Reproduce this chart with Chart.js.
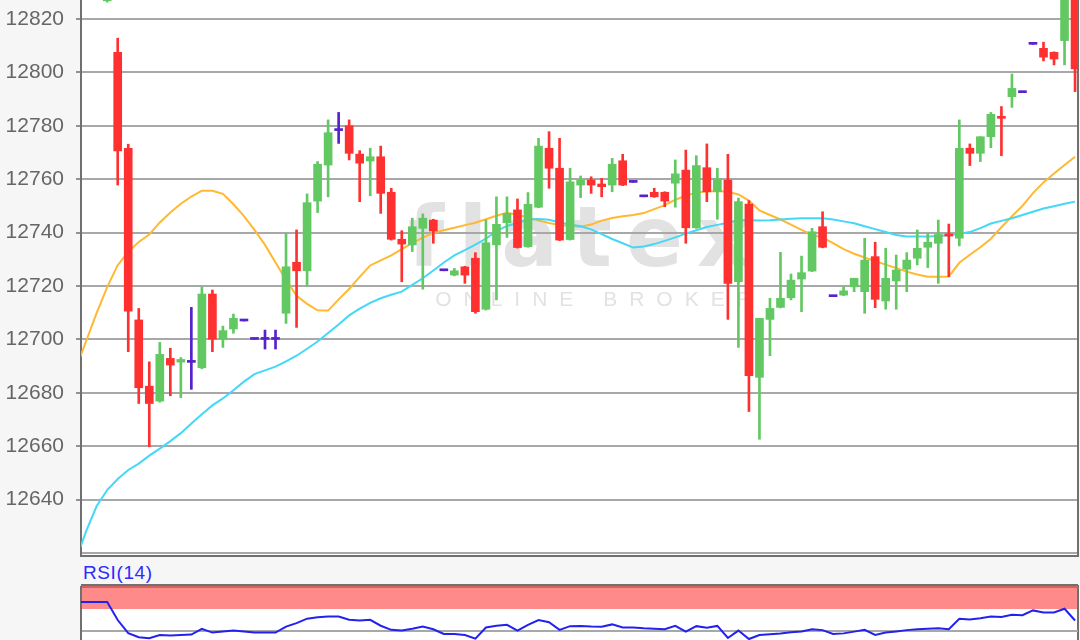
<!DOCTYPE html>
<html>
<head>
<meta charset="utf-8">
<script src="https://cdn.jsdelivr.net/npm/chart.js@4/dist/chart.umd.min.js"></script>
<style>
  body { margin: 0; width: 1080px; height: 640px; overflow: hidden; position: relative; background: #f6f6f6; }
  canvas { position: absolute; left: 0; }
  #price-chart { top: 0; }
  #rsi-chart { top: 583px; }
  #rsi-label { position: absolute; left: 83px; top: 563px; font: 19px "Liberation Sans", Arial, sans-serif; letter-spacing: 0.6px; color: #2b2bff; line-height: 20px; }
</style>
</head>
<body>
<canvas id="price-chart" width="1080" height="557"></canvas>
<div id="rsi-label">RSI(14)</div>
<canvas id="rsi-chart" width="1080" height="100"></canvas>
<script>
// Candles, first one sits at index 0 (mostly above the visible area)
const opens = [12826.8, 12807.5, 12771.6, 12707.3, 12682.5, 12676.9, 12692.9, 12691.5, 12691.4, 12689.4,
  12717, 12700.1, 12703.9, 12706.9, 12700, 12700, 12700, 12709.8, 12728.9, 12725.7,
  12751.8, 12765.3, 12778.2, 12780, 12769.4, 12766.8, 12768.4, 12755.1, 12737.5, 12735.4,
  12741.6, 12744.7, 12725.7, 12724.1, 12727.2, 12730.4, 12711.3, 12735.4, 12743.7, 12748.5,
  12734.7, 12749.5, 12771.6, 12764.1, 12737.4, 12757.8, 12759.7, 12758.2, 12757.8, 12766.9,
  12758.8, 12753.4, 12755.1, 12755.1, 12758.5, 12763.4, 12741.8, 12764.3, 12755.3, 12759.7,
  12721.6, 12750.7, 12685.8, 12707.5, 12712, 12715.6, 12722.6, 12725.6, 12742.2, 12716,
  12716.6, 12719.7, 12717.9, 12731, 12714.4, 12721.9, 12726.3, 12730.4, 12734.5, 12736,
  12739.3, 12737.9, 12771.6, 12769.7, 12775.9, 12783.4, 12790.9, 12792.4, 12810.5, 12809,
  12807.5, 12811.9, 12835];
const highs = [12838, 12812.8, 12773.1, 12711.6, 12691.6, 12698.9, 12696.7, 12693.2, 12712, 12719.7,
  12718.5, 12705, 12709.5, 12706.9, 12700, 12703.5, 12703.5, 12739.7, 12741, 12754.5,
  12766.6, 12782.2, 12785, 12782.2, 12770.7, 12771.6, 12772.4, 12756.6, 12740.7, 12745.4,
  12747, 12745, 12725.7, 12726.6, 12727.4, 12732.5, 12744.7, 12753.4, 12753.4, 12752.6,
  12755, 12775.3, 12777.8, 12775.3, 12764.1, 12761.2, 12760.9, 12760.3, 12767.8, 12769.3,
  12758.8, 12753.4, 12756.6, 12755.3, 12767.2, 12770.9, 12768.8, 12773.2, 12764.1, 12769.3,
  12752.9, 12752, 12707.9, 12715.4, 12732.6, 12724.5, 12731.2, 12741.6, 12747.8, 12716,
  12719.7, 12722.9, 12737.9, 12736.4, 12734.1, 12731.6, 12732.5, 12741, 12739.7, 12744.7,
  12743.2, 12782.2, 12773.2, 12775.9, 12785, 12787.2, 12799.4, 12792.4, 12810.5, 12811.3,
  12807.7, 12840, 12838];
const lows = [12826.3, 12757.8, 12695.4, 12676, 12659.8, 12676.5, 12678.9, 12678.2, 12681.3, 12689,
  12695.4, 12697, 12702.3, 12706.9, 12700, 12696.4, 12696.4, 12706, 12704.5, 12720,
  12747.5, 12753.4, 12773.4, 12767.2, 12751.6, 12753.8, 12747.2, 12737.2, 12721.6, 12732.9,
  12718.8, 12736, 12725.7, 12723.8, 12721, 12709.8, 12711, 12714.8, 12738.2, 12734.2,
  12734.5, 12749.3, 12756.6, 12737, 12737.2, 12753.1, 12754.7, 12753.4, 12755.3, 12757.6,
  12758.8, 12753.4, 12753.2, 12749.7, 12749.5, 12736, 12741.6, 12751.6, 12745, 12707.5,
  12697, 12673, 12662.6, 12693.9, 12711.8, 12714.8, 12710.4, 12725.4, 12734.3, 12716,
  12716.4, 12717.9, 12709.8, 12711.9, 12711.3, 12711.3, 12717.9, 12727.9, 12726.9, 12721,
  12723.5, 12735, 12765.1, 12766.6, 12771.8, 12768.8, 12786.9, 12792.4, 12810.5, 12804.3,
  12802.8, 12802.8, 12792.8];
const closes = [12835, 12770.6, 12710.6, 12681.9, 12676, 12694.4, 12690.4, 12692.5, 12691.4, 12717,
  12700.1, 12703.3, 12707.9, 12706.9, 12700, 12700, 12700, 12727.2, 12725.7, 12751.2,
  12765.6, 12777.4, 12778.2, 12769.7, 12766, 12768.4, 12754.7, 12737.5, 12735.7, 12742.2,
  12745.4, 12740.6, 12725.7, 12725.7, 12724.1, 12710.4, 12736.2, 12743.1, 12747.2, 12734.4,
  12750.6, 12772.4, 12764.1, 12737.2, 12759, 12759.7, 12757.8, 12757.2, 12765.6, 12757.8,
  12758.8, 12753.4, 12753.4, 12751.8, 12762, 12741.8, 12765.1, 12755.3, 12760.1, 12721,
  12751.6, 12686.4, 12707.9, 12711.6, 12715.4, 12722.2, 12725, 12740.3, 12734.5, 12716,
  12718.2, 12722.9, 12729.7, 12715, 12722.9, 12726, 12729.7, 12734.1, 12736.4, 12739.3,
  12738.7, 12771.6, 12769.7, 12775.9, 12784.3, 12782.8, 12794, 12792.4, 12810.5, 12805.7,
  12805, 12835, 12801.3];

// Indicator lines start 3 bars before the first candle
const lineStart = -3;
const maFast = [12688.8, 12699.4, 12709.9, 12719.6, 12727.8, 12732.9, 12736.5, 12739.3, 12743.8, 12747.5,
  12750.8, 12753.5, 12755.7, 12755.7, 12754.5, 12750.6, 12746.2, 12741, 12735.4, 12728.8,
  12722.3, 12716.3, 12713.3, 12710.9, 12710.8, 12715, 12718.9, 12723.4, 12727.7, 12729.6,
  12731.5, 12733.8, 12736.1, 12738.1, 12739.9, 12740.9, 12741.8, 12742.8, 12743.7, 12745,
  12746.3, 12747.4, 12746.7, 12745.7, 12744.5, 12743.6, 12742.8, 12742.5, 12742.2, 12743,
  12744.5, 12745.5, 12746.1, 12746.6, 12747.3, 12748.8, 12750.3, 12752.3, 12753.8, 12755,
  12755.4, 12755.6, 12755.3, 12754.3, 12752, 12748.3, 12746.6, 12744.9, 12743, 12741,
  12739.2, 12738.1, 12736.1, 12733.8, 12732.1, 12730.7, 12729.3, 12728, 12726.7, 12725.4,
  12724.3, 12723.5, 12723.5, 12723.6, 12728.7, 12731.7, 12734.5, 12737.7, 12742, 12746.1,
  12750, 12754.8, 12758.8, 12762.1, 12765.3, 12768.4];
const maSlow = [12617.2, 12628.2, 12637.6, 12643.6, 12647.7, 12651.1, 12653.5, 12656.5, 12659.1, 12661.9,
  12664.9, 12668.5, 12672, 12675.3, 12677.9, 12681, 12684.2, 12687, 12688.4, 12689.8,
  12691.8, 12693.9, 12696.5, 12699.2, 12702.4, 12705.6, 12709, 12711.5, 12713.7, 12715.4,
  12716.7, 12717.9, 12720.4, 12722.9, 12725.8, 12728.8, 12731.5, 12733.4, 12735.5, 12737.7,
  12740.6, 12742.5, 12743.6, 12744.9, 12745.1, 12744.8, 12743.8, 12743, 12742.4, 12741.2,
  12739.4, 12737.6, 12736, 12734.4, 12734.8, 12735.7, 12736.9, 12738.2, 12739.6, 12740.9,
  12742.1, 12742.9, 12743.7, 12744.7, 12744.6, 12744.5, 12744.6, 12744.9, 12745.2, 12745.4,
  12745.4, 12745.4, 12744.9, 12744.2, 12743.5, 12742.4, 12741.3, 12740.2, 12739.1, 12738.5,
  12738.5, 12738.5, 12738.7, 12739, 12739.6, 12740.2, 12741.7, 12743.4, 12744.4, 12745.4,
  12746.6, 12747.8, 12749, 12749.9, 12750.8, 12751.6];
const rsiValues = [83, 83, 83, 83, 62.5, 47.5, 43, 41.7, 45.5, 45,
  45.5, 46, 52.4, 48.2, 49.5, 50.5, 49.5, 48.2, 48.2, 48.2,
  55, 59, 64, 65.5, 66.5, 66.5, 62.7, 62, 62.7, 56,
  51.3, 50.5, 52.5, 55, 52, 46.7, 46.5, 45.5, 41.3, 54,
  56, 57, 50.5, 57, 62.5, 60, 51.3, 55.5, 55.8, 55,
  54.8, 57.5, 54, 54, 53, 52.5, 52, 55.8, 49.3, 55.5,
  53.6, 55.8, 42.1, 50.5, 40.9, 45.5, 46.3, 47.2, 48.5, 49.5,
  52, 51, 46.7, 47.3, 49.3, 51.3, 45.5, 48.2, 49.5, 51,
  52.1, 52.5, 53, 52.1, 63.9, 63.2, 64.5, 66.5, 66, 68.5,
  68, 73.4, 71.1, 71, 75.3, 61.9];

// Axis ranges and tick labels
const xMin = -2.49;
const xMax = 92.28;
const priceMin = 12618.9;
const priceMax = 12827.1;
const priceTicks = [12640, 12660, 12680, 12700, 12720, 12740, 12760, 12780, 12800, 12820];
const rsiTicks = [25, 75];
const rsiOverbought = [75, 100];

const upColor = '#62c962';
const downColor = '#ff3030';
const dojiColor = '#5522cc';
const axisFont = { family: '"Liberation Sans", Arial, sans-serif', size: 21 };

const candleColors = opens.map((o, i) => closes[i] > o ? upColor : (closes[i] < o ? downColor : dojiColor));
const linePoints = (values) => values.map((v, i) => ({ x: lineStart + i, y: v }));

function fixAxisWidth(scale) {
  scale.width = 81;
  scale.paddingTop = 0;
  scale.paddingBottom = 0;
}

// Background, plot area and the faint broker watermark
const pricePanel = {
  id: 'pricePanel',
  beforeDraw(chart) {
    const { ctx, chartArea: a } = chart;
    ctx.save();
    ctx.fillStyle = '#f6f6f6';
    ctx.fillRect(0, 0, chart.width, chart.height);
    ctx.fillStyle = '#ffffff';
    ctx.fillRect(a.left, a.top, a.right - a.left, a.bottom - a.top);
    const cx = (a.left + a.right) / 2;
    const cy = (a.top + a.bottom) / 2;
    ctx.fillStyle = '#e2e2e2';
    ctx.textAlign = 'center';
    ctx.font = 'bold 84px "DejaVu Sans", "Open Sans", sans-serif';
    ctx.letterSpacing = '14px';
    ctx.fillText('flatex', cx + 7, cy - 12);
    ctx.font = '21px "Liberation Sans", Arial, sans-serif';
    ctx.letterSpacing = '12px';
    ctx.fillText('ONLINE BROKER', cx + 20, cy + 28);
    ctx.restore();
  },
  afterDraw(chart) {
    const { ctx, chartArea: a } = chart;
    ctx.save();
    ctx.strokeStyle = '#707070';
    ctx.lineWidth = 2;
    ctx.beginPath();
    ctx.moveTo(a.left, a.bottom);
    ctx.lineTo(a.right, a.bottom);
    ctx.lineTo(a.right, a.top);
    ctx.stroke();
    ctx.restore();
  }
};

const rsiPanel = {
  id: 'rsiPanel',
  beforeDraw(chart) {
    const { ctx, chartArea: a, scales } = chart;
    ctx.save();
    ctx.fillStyle = '#f6f6f6';
    ctx.fillRect(0, 0, chart.width, chart.height);
    ctx.fillStyle = '#ffffff';
    ctx.fillRect(a.left, a.top, a.right - a.left, a.bottom - a.top);
    const top = scales.y.getPixelForValue(rsiOverbought[1]);
    const bottom = scales.y.getPixelForValue(rsiOverbought[0]);
    ctx.fillStyle = '#ff8a8a';
    ctx.fillRect(a.left, top, a.right - a.left, bottom - top);
    ctx.strokeStyle = '#707070';
    ctx.lineWidth = 2;
    ctx.beginPath();
    ctx.moveTo(a.left, a.top - 2);
    ctx.lineTo(a.right, a.top - 2);
    ctx.moveTo(a.right, a.top - 2);
    ctx.lineTo(a.right, a.bottom);
    ctx.stroke();
    ctx.restore();
  }
};

// Price chart: wicks and bodies as floating bars, moving averages as lines
new Chart(document.getElementById('price-chart'), {
  type: 'bar',
  data: {
    datasets: [
      {
        type: 'line', label: 'MA fast', data: linePoints(maFast),
        borderColor: '#ffb830', borderWidth: 2, pointRadius: 0, order: 3
      },
      {
        type: 'line', label: 'MA slow', data: linePoints(maSlow),
        borderColor: '#44d8f8', borderWidth: 2, pointRadius: 0, order: 2
      },
      {
        label: 'wick', data: opens.map((_, i) => ({ x: i, y: [lows[i], highs[i]] })),
        backgroundColor: candleColors, barThickness: 2, grouped: false, order: 1
      },
      {
        label: 'body', data: opens.map((o, i) => ({ x: i, y: [o, closes[i]] })),
        backgroundColor: candleColors, barThickness: 8, minBarLength: 2, grouped: false, order: 0
      }
    ]
  },
  options: {
    responsive: false,
    animation: false,
    layout: { padding: { top: 0, right: 2, bottom: 1, left: 0 } },
    plugins: { legend: { display: false }, tooltip: { enabled: false } },
    scales: {
      x: { type: 'linear', min: xMin, max: xMax, offset: false, display: false },
      y: {
        min: priceMin, max: priceMax,
        afterFit: fixAxisWidth,
        ticks: {
          stepSize: 20, includeBounds: false, padding: 12, color: '#666666', font: axisFont,
          callback: v => priceTicks.includes(v) ? String(v) : ''
        },
        grid: {
          color: '#a8a8a8', lineWidth: 2, tickLength: 5, tickWidth: 1.5,
          tickColor: c => priceTicks.includes(c.tick.value) ? '#707070' : 'rgba(0,0,0,0)'
        },
        border: { color: '#707070', width: 2 }
      }
    }
  },
  plugins: [pricePanel]
});

// RSI panel
new Chart(document.getElementById('rsi-chart'), {
  type: 'line',
  data: {
    datasets: [{
      label: 'RSI(14)', data: linePoints(rsiValues),
      borderColor: '#2222ee', borderWidth: 2, pointRadius: 0
    }]
  },
  options: {
    responsive: false,
    animation: false,
    layout: { padding: { top: 4, right: 2, bottom: 8, left: 0 } },
    plugins: { legend: { display: false }, tooltip: { enabled: false } },
    scales: {
      x: { type: 'linear', min: xMin, max: xMax, offset: false, display: false },
      y: {
        min: 0, max: 100,
        afterFit: fixAxisWidth,
        ticks: {
          stepSize: 25, padding: 12, color: '#666666', font: axisFont,
          callback: v => rsiTicks.includes(v) ? String(v) : ''
        },
        grid: {
          color: c => c.tick.value >= rsiOverbought[0] ? '#d46060' : '#a8a8a8',
          lineWidth: 2, tickLength: 5, tickWidth: 1.5,
          tickColor: c => rsiTicks.includes(c.tick.value) ? '#707070' : 'rgba(0,0,0,0)'
        },
        border: { color: '#707070', width: 2 }
      }
    }
  },
  plugins: [rsiPanel]
});
</script>
</body>
</html>
